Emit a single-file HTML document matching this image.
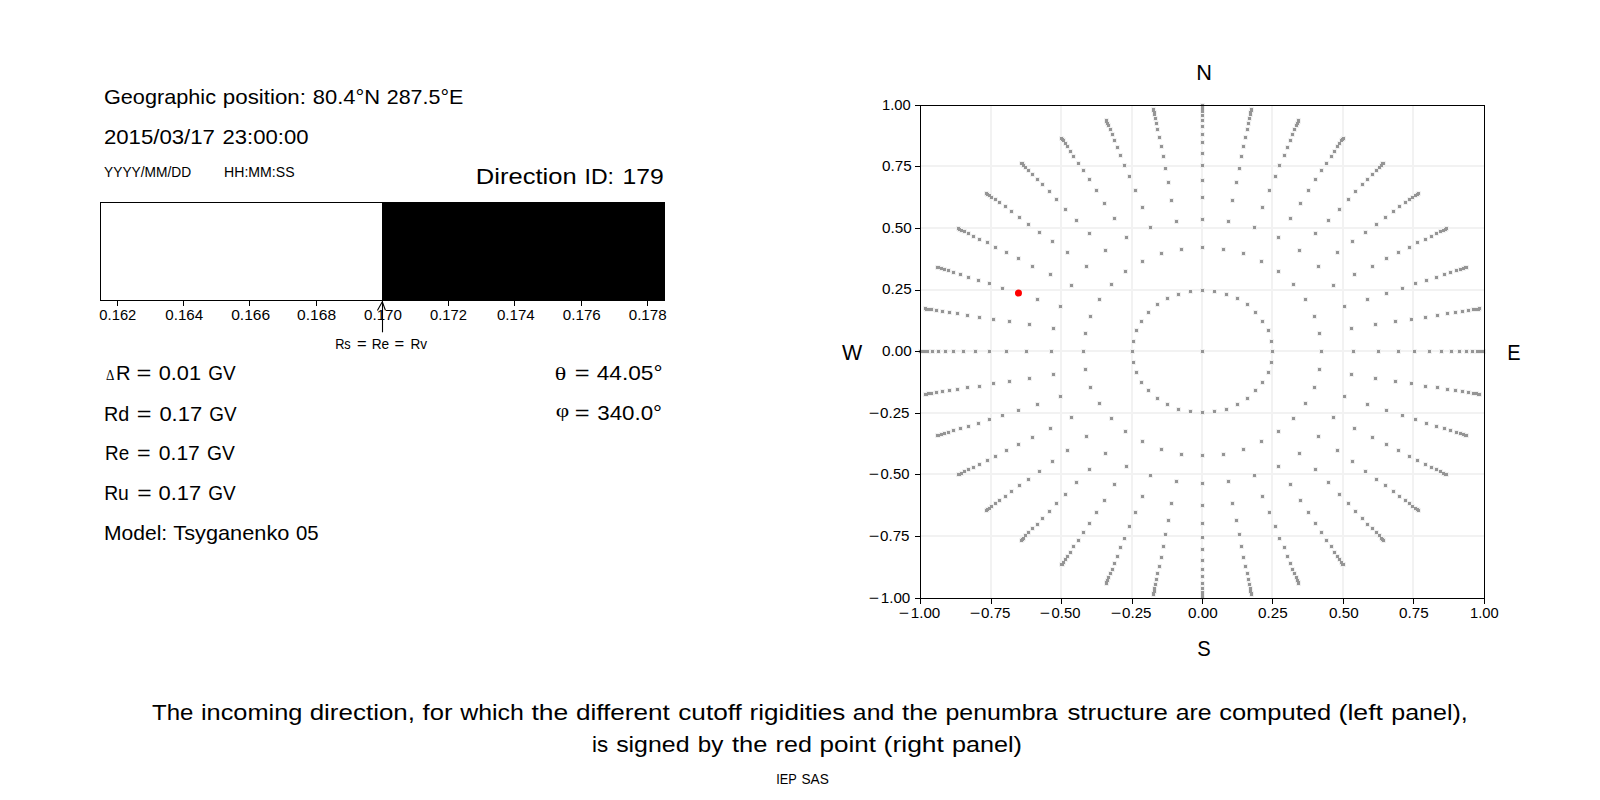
<!DOCTYPE html><html><head><meta charset="utf-8"><style>html,body{margin:0;padding:0;background:#fff;width:1600px;height:800px;overflow:hidden}svg{display:block}text{font-family:"Liberation Sans", sans-serif;fill:#000}</style></head><body>
<svg width="1600" height="800" viewBox="0 0 1600 800">
<rect x="0" y="0" width="1600" height="800" fill="#fff"/>
<g shape-rendering="crispEdges">
<rect x="382" y="202" width="283" height="99" fill="#000"/>
<path d="M100.5,202.5H664.5V300.5H100.5Z" fill="none" stroke="#000" stroke-width="1"/>
<path d="M117.5,301V306" stroke="#000" stroke-width="1"/>
<path d="M183.5,301V306" stroke="#000" stroke-width="1"/>
<path d="M249.5,301V306" stroke="#000" stroke-width="1"/>
<path d="M316.5,301V306" stroke="#000" stroke-width="1"/>
<path d="M382.5,301V306" stroke="#000" stroke-width="1"/>
<path d="M448.5,301V306" stroke="#000" stroke-width="1"/>
<path d="M514.5,301V306" stroke="#000" stroke-width="1"/>
<path d="M581.5,301V306" stroke="#000" stroke-width="1"/>
<path d="M647.5,301V306" stroke="#000" stroke-width="1"/>
</g>
<g fill="none" stroke="#000" stroke-width="1.1" stroke-linecap="butt" stroke-linejoin="miter">
<path d="M382.5,332.3L382.5,301.6"/>
<path d="M377.4,310.6L382.3,301.8L385.4,310.3"/>
</g>
<g shape-rendering="crispEdges">
<rect x="990" y="106" width="2" height="492" fill="#f2f2f2"/>
<rect x="921" y="535" width="563" height="2" fill="#f2f2f2"/>
<rect x="1060" y="106" width="2" height="492" fill="#f2f2f2"/>
<rect x="921" y="473" width="563" height="2" fill="#f2f2f2"/>
<rect x="1131" y="106" width="2" height="492" fill="#f2f2f2"/>
<rect x="921" y="412" width="563" height="2" fill="#f2f2f2"/>
<rect x="1201" y="106" width="2" height="492" fill="#f2f2f2"/>
<rect x="921" y="350" width="563" height="2" fill="#f2f2f2"/>
<rect x="1271" y="106" width="2" height="492" fill="#f2f2f2"/>
<rect x="921" y="289" width="563" height="2" fill="#f2f2f2"/>
<rect x="1342" y="106" width="2" height="492" fill="#f2f2f2"/>
<rect x="921" y="227" width="563" height="2" fill="#f2f2f2"/>
<rect x="1412" y="106" width="2" height="492" fill="#f2f2f2"/>
<rect x="921" y="165" width="563" height="2" fill="#f2f2f2"/>
</g>
<path d="M1200,349h5v5h-5zM1130,349h5v5h-5zM1131,360h5v5h-5zM1134,370h5v5h-5zM1139,380h5v5h-5zM1146,388h5v5h-5zM1155,396h5v5h-5zM1165,402h5v5h-5zM1176,407h5v5h-5zM1188,409h5v5h-5zM1200,410h5v5h-5zM1212,409h5v5h-5zM1224,407h5v5h-5zM1235,402h5v5h-5zM1245,396h5v5h-5zM1253,388h5v5h-5zM1260,380h5v5h-5zM1266,370h5v5h-5zM1269,360h5v5h-5zM1270,349h5v5h-5zM1269,339h5v5h-5zM1266,328h5v5h-5zM1260,319h5v5h-5zM1253,310h5v5h-5zM1245,302h5v5h-5zM1235,296h5v5h-5zM1224,292h5v5h-5zM1212,289h5v5h-5zM1200,288h5v5h-5zM1188,289h5v5h-5zM1176,292h5v5h-5zM1165,296h5v5h-5zM1155,302h5v5h-5zM1146,310h5v5h-5zM1139,319h5v5h-5zM1134,328h5v5h-5zM1131,339h5v5h-5zM1081,349h5v5h-5zM1083,367h5v5h-5zM1088,385h5v5h-5zM1097,401h5v5h-5zM1109,416h5v5h-5zM1123,429h5v5h-5zM1140,439h5v5h-5zM1159,447h5v5h-5zM1179,452h5v5h-5zM1200,453h5v5h-5zM1221,452h5v5h-5zM1241,447h5v5h-5zM1259,439h5v5h-5zM1276,429h5v5h-5zM1291,416h5v5h-5zM1303,401h5v5h-5zM1312,385h5v5h-5zM1317,367h5v5h-5zM1319,349h5v5h-5zM1317,331h5v5h-5zM1312,314h5v5h-5zM1303,297h5v5h-5zM1291,282h5v5h-5zM1276,269h5v5h-5zM1259,259h5v5h-5zM1241,251h5v5h-5zM1221,247h5v5h-5zM1200,245h5v5h-5zM1179,247h5v5h-5zM1159,251h5v5h-5zM1140,259h5v5h-5zM1123,269h5v5h-5zM1109,282h5v5h-5zM1097,297h5v5h-5zM1088,314h5v5h-5zM1083,331h5v5h-5zM1049,349h5v5h-5zM1051,372h5v5h-5zM1058,394h5v5h-5zM1069,415h5v5h-5zM1084,434h5v5h-5zM1103,451h5v5h-5zM1124,464h5v5h-5zM1148,473h5v5h-5zM1174,479h5v5h-5zM1200,481h5v5h-5zM1226,479h5v5h-5zM1252,473h5v5h-5zM1276,464h5v5h-5zM1297,451h5v5h-5zM1316,434h5v5h-5zM1331,415h5v5h-5zM1342,394h5v5h-5zM1349,372h5v5h-5zM1351,349h5v5h-5zM1349,326h5v5h-5zM1342,304h5v5h-5zM1331,283h5v5h-5zM1316,264h5v5h-5zM1297,248h5v5h-5zM1276,235h5v5h-5zM1252,225h5v5h-5zM1226,219h5v5h-5zM1200,217h5v5h-5zM1174,219h5v5h-5zM1148,225h5v5h-5zM1124,235h5v5h-5zM1103,248h5v5h-5zM1084,264h5v5h-5zM1069,283h5v5h-5zM1058,304h5v5h-5zM1051,326h5v5h-5zM1024,349h5v5h-5zM1027,376h5v5h-5zM1035,402h5v5h-5zM1048,426h5v5h-5zM1065,448h5v5h-5zM1087,467h5v5h-5zM1112,482h5v5h-5zM1140,494h5v5h-5zM1169,501h5v5h-5zM1200,503h5v5h-5zM1230,501h5v5h-5zM1260,494h5v5h-5zM1288,482h5v5h-5zM1313,467h5v5h-5zM1335,448h5v5h-5zM1352,426h5v5h-5zM1365,402h5v5h-5zM1373,376h5v5h-5zM1376,349h5v5h-5zM1373,322h5v5h-5zM1365,297h5v5h-5zM1352,272h5v5h-5zM1335,250h5v5h-5zM1313,231h5v5h-5zM1288,216h5v5h-5zM1260,205h5v5h-5zM1230,198h5v5h-5zM1200,195h5v5h-5zM1169,198h5v5h-5zM1140,205h5v5h-5zM1112,216h5v5h-5zM1087,231h5v5h-5zM1065,250h5v5h-5zM1048,272h5v5h-5zM1035,297h5v5h-5zM1027,322h5v5h-5zM1004,349h5v5h-5zM1007,379h5v5h-5zM1016,408h5v5h-5zM1030,435h5v5h-5zM1050,459h5v5h-5zM1074,480h5v5h-5zM1102,498h5v5h-5zM1133,510h5v5h-5zM1166,518h5v5h-5zM1200,521h5v5h-5zM1234,518h5v5h-5zM1267,510h5v5h-5zM1298,498h5v5h-5zM1326,480h5v5h-5zM1350,459h5v5h-5zM1370,435h5v5h-5zM1384,408h5v5h-5zM1393,379h5v5h-5zM1396,349h5v5h-5zM1393,319h5v5h-5zM1384,291h5v5h-5zM1370,264h5v5h-5zM1350,239h5v5h-5zM1326,218h5v5h-5zM1298,201h5v5h-5zM1267,188h5v5h-5zM1234,180h5v5h-5zM1200,178h5v5h-5zM1166,180h5v5h-5zM1133,188h5v5h-5zM1102,201h5v5h-5zM1074,218h5v5h-5zM1050,239h5v5h-5zM1030,264h5v5h-5zM1016,291h5v5h-5zM1007,319h5v5h-5zM987,349h5v5h-5zM991,381h5v5h-5zM1000,413h5v5h-5zM1016,442h5v5h-5zM1037,469h5v5h-5zM1063,492h5v5h-5zM1094,510h5v5h-5zM1127,524h5v5h-5zM1163,532h5v5h-5zM1200,535h5v5h-5zM1237,532h5v5h-5zM1273,524h5v5h-5zM1306,510h5v5h-5zM1337,492h5v5h-5zM1363,469h5v5h-5zM1384,442h5v5h-5zM1400,413h5v5h-5zM1409,381h5v5h-5zM1412,349h5v5h-5zM1409,317h5v5h-5zM1400,286h5v5h-5zM1384,256h5v5h-5zM1363,230h5v5h-5zM1337,207h5v5h-5zM1306,188h5v5h-5zM1273,174h5v5h-5zM1237,166h5v5h-5zM1200,163h5v5h-5zM1163,166h5v5h-5zM1127,174h5v5h-5zM1094,188h5v5h-5zM1063,207h5v5h-5zM1037,230h5v5h-5zM1016,256h5v5h-5zM1000,286h5v5h-5zM991,317h5v5h-5zM973,349h5v5h-5zM977,384h5v5h-5zM987,417h5v5h-5zM1004,448h5v5h-5zM1026,477h5v5h-5zM1054,501h5v5h-5zM1087,521h5v5h-5zM1122,536h5v5h-5zM1161,544h5v5h-5zM1200,547h5v5h-5zM1239,544h5v5h-5zM1277,536h5v5h-5zM1313,521h5v5h-5zM1346,501h5v5h-5zM1374,477h5v5h-5zM1396,448h5v5h-5zM1413,417h5v5h-5zM1423,384h5v5h-5zM1427,349h5v5h-5zM1423,315h5v5h-5zM1413,281h5v5h-5zM1396,250h5v5h-5zM1374,222h5v5h-5zM1346,197h5v5h-5zM1313,177h5v5h-5zM1277,163h5v5h-5zM1239,154h5v5h-5zM1200,151h5v5h-5zM1161,154h5v5h-5zM1122,163h5v5h-5zM1087,177h5v5h-5zM1054,197h5v5h-5zM1026,222h5v5h-5zM1004,250h5v5h-5zM987,281h5v5h-5zM977,315h5v5h-5zM961,349h5v5h-5zM965,385h5v5h-5zM976,421h5v5h-5zM993,454h5v5h-5zM1017,483h5v5h-5zM1047,509h5v5h-5zM1081,530h5v5h-5zM1118,545h5v5h-5zM1159,555h5v5h-5zM1200,558h5v5h-5zM1241,555h5v5h-5zM1282,545h5v5h-5zM1319,530h5v5h-5zM1353,509h5v5h-5zM1383,483h5v5h-5zM1407,454h5v5h-5zM1424,421h5v5h-5zM1435,385h5v5h-5zM1439,349h5v5h-5zM1435,313h5v5h-5zM1424,278h5v5h-5zM1407,245h5v5h-5zM1383,215h5v5h-5zM1353,189h5v5h-5zM1319,168h5v5h-5zM1282,153h5v5h-5zM1241,144h5v5h-5zM1200,140h5v5h-5zM1159,144h5v5h-5zM1118,153h5v5h-5zM1081,168h5v5h-5zM1047,189h5v5h-5zM1017,215h5v5h-5zM993,245h5v5h-5zM976,278h5v5h-5zM965,313h5v5h-5zM951,349h5v5h-5zM955,387h5v5h-5zM966,424h5v5h-5zM985,458h5v5h-5zM1009,489h5v5h-5zM1040,516h5v5h-5zM1076,538h5v5h-5zM1115,554h5v5h-5zM1157,564h5v5h-5zM1200,567h5v5h-5zM1243,564h5v5h-5zM1285,554h5v5h-5zM1324,538h5v5h-5zM1360,516h5v5h-5zM1391,489h5v5h-5zM1415,458h5v5h-5zM1434,424h5v5h-5zM1445,387h5v5h-5zM1449,349h5v5h-5zM1445,311h5v5h-5zM1434,275h5v5h-5zM1415,240h5v5h-5zM1391,209h5v5h-5zM1360,182h5v5h-5zM1324,161h5v5h-5zM1285,145h5v5h-5zM1243,135h5v5h-5zM1200,132h5v5h-5zM1157,135h5v5h-5zM1115,145h5v5h-5zM1076,161h5v5h-5zM1040,182h5v5h-5zM1009,209h5v5h-5zM985,240h5v5h-5zM966,275h5v5h-5zM955,311h5v5h-5zM943,349h5v5h-5zM947,388h5v5h-5zM958,426h5v5h-5zM977,462h5v5h-5zM1003,494h5v5h-5zM1035,522h5v5h-5zM1071,544h5v5h-5zM1112,561h5v5h-5zM1155,571h5v5h-5zM1200,574h5v5h-5zM1245,571h5v5h-5zM1288,561h5v5h-5zM1329,544h5v5h-5zM1365,522h5v5h-5zM1397,494h5v5h-5zM1423,462h5v5h-5zM1442,426h5v5h-5zM1453,388h5v5h-5zM1457,349h5v5h-5zM1453,310h5v5h-5zM1442,272h5v5h-5zM1423,237h5v5h-5zM1397,204h5v5h-5zM1365,177h5v5h-5zM1329,154h5v5h-5zM1288,138h5v5h-5zM1245,127h5v5h-5zM1200,124h5v5h-5zM1155,127h5v5h-5zM1112,138h5v5h-5zM1071,154h5v5h-5zM1035,177h5v5h-5zM1003,204h5v5h-5zM977,237h5v5h-5zM958,272h5v5h-5zM947,310h5v5h-5zM936,349h5v5h-5zM940,389h5v5h-5zM951,428h5v5h-5zM971,465h5v5h-5zM997,498h5v5h-5zM1030,526h5v5h-5zM1068,550h5v5h-5zM1110,567h5v5h-5zM1154,577h5v5h-5zM1200,581h5v5h-5zM1246,577h5v5h-5zM1290,567h5v5h-5zM1332,550h5v5h-5zM1370,526h5v5h-5zM1403,498h5v5h-5zM1429,465h5v5h-5zM1448,428h5v5h-5zM1460,389h5v5h-5zM1464,349h5v5h-5zM1460,309h5v5h-5zM1448,270h5v5h-5zM1429,234h5v5h-5zM1403,200h5v5h-5zM1370,172h5v5h-5zM1332,149h5v5h-5zM1290,132h5v5h-5zM1246,121h5v5h-5zM1200,118h5v5h-5zM1154,121h5v5h-5zM1110,132h5v5h-5zM1068,149h5v5h-5zM1030,172h5v5h-5zM997,200h5v5h-5zM971,234h5v5h-5zM951,270h5v5h-5zM940,309h5v5h-5zM930,349h5v5h-5zM934,390h5v5h-5zM946,430h5v5h-5zM966,467h5v5h-5zM993,501h5v5h-5zM1026,530h5v5h-5zM1065,554h5v5h-5zM1108,571h5v5h-5zM1153,582h5v5h-5zM1200,586h5v5h-5zM1247,582h5v5h-5zM1292,571h5v5h-5zM1335,554h5v5h-5zM1374,530h5v5h-5zM1407,501h5v5h-5zM1434,467h5v5h-5zM1454,430h5v5h-5zM1466,390h5v5h-5zM1470,349h5v5h-5zM1466,308h5v5h-5zM1454,268h5v5h-5zM1434,231h5v5h-5zM1407,197h5v5h-5zM1374,168h5v5h-5zM1335,144h5v5h-5zM1292,127h5v5h-5zM1247,116h5v5h-5zM1200,113h5v5h-5zM1153,116h5v5h-5zM1108,127h5v5h-5zM1065,144h5v5h-5zM1026,168h5v5h-5zM993,197h5v5h-5zM966,231h5v5h-5zM946,268h5v5h-5zM934,308h5v5h-5zM925,349h5v5h-5zM929,391h5v5h-5zM942,431h5v5h-5zM962,469h5v5h-5zM989,504h5v5h-5zM1023,533h5v5h-5zM1063,557h5v5h-5zM1106,575h5v5h-5zM1152,586h5v5h-5zM1200,590h5v5h-5zM1248,586h5v5h-5zM1294,575h5v5h-5zM1337,557h5v5h-5zM1377,533h5v5h-5zM1410,504h5v5h-5zM1438,469h5v5h-5zM1458,431h5v5h-5zM1471,391h5v5h-5zM1475,349h5v5h-5zM1471,307h5v5h-5zM1458,267h5v5h-5zM1438,229h5v5h-5zM1410,195h5v5h-5zM1377,165h5v5h-5zM1337,141h5v5h-5zM1294,123h5v5h-5zM1248,112h5v5h-5zM1200,109h5v5h-5zM1152,112h5v5h-5zM1106,123h5v5h-5zM1063,141h5v5h-5zM1023,165h5v5h-5zM989,195h5v5h-5zM962,229h5v5h-5zM942,267h5v5h-5zM929,307h5v5h-5zM922,349h5v5h-5zM926,391h5v5h-5zM939,432h5v5h-5zM959,471h5v5h-5zM987,506h5v5h-5zM1021,536h5v5h-5zM1061,560h5v5h-5zM1105,578h5v5h-5zM1152,589h5v5h-5zM1200,593h5v5h-5zM1248,589h5v5h-5zM1295,578h5v5h-5zM1339,560h5v5h-5zM1379,536h5v5h-5zM1413,506h5v5h-5zM1441,471h5v5h-5zM1461,432h5v5h-5zM1474,391h5v5h-5zM1478,349h5v5h-5zM1474,307h5v5h-5zM1461,266h5v5h-5zM1441,228h5v5h-5zM1413,193h5v5h-5zM1379,163h5v5h-5zM1339,138h5v5h-5zM1295,121h5v5h-5zM1248,110h5v5h-5zM1200,106h5v5h-5zM1152,110h5v5h-5zM1105,121h5v5h-5zM1061,138h5v5h-5zM1021,163h5v5h-5zM987,193h5v5h-5zM959,228h5v5h-5zM939,266h5v5h-5zM926,307h5v5h-5zM920,349h5v5h-5zM924,392h5v5h-5zM936,433h5v5h-5zM957,472h5v5h-5zM985,507h5v5h-5zM1020,537h5v5h-5zM1060,562h5v5h-5zM1104,580h5v5h-5zM1151,591h5v5h-5zM1200,595h5v5h-5zM1249,591h5v5h-5zM1296,580h5v5h-5zM1340,562h5v5h-5zM1380,537h5v5h-5zM1415,507h5v5h-5zM1443,472h5v5h-5zM1463,433h5v5h-5zM1476,392h5v5h-5zM1480,349h5v5h-5zM1476,307h5v5h-5zM1463,265h5v5h-5zM1443,227h5v5h-5zM1415,192h5v5h-5zM1380,161h5v5h-5zM1340,137h5v5h-5zM1296,119h5v5h-5zM1249,108h5v5h-5zM1200,104h5v5h-5zM1151,108h5v5h-5zM1104,119h5v5h-5zM1060,137h5v5h-5zM1020,161h5v5h-5zM985,192h5v5h-5zM957,227h5v5h-5zM936,265h5v5h-5zM924,307h5v5h-5zM918,349h5v5h-5zM923,392h5v5h-5zM935,433h5v5h-5zM956,472h5v5h-5zM984,508h5v5h-5zM1019,538h5v5h-5zM1059,562h5v5h-5zM1104,581h5v5h-5zM1151,592h5v5h-5zM1200,595h5v5h-5zM1249,592h5v5h-5zM1296,581h5v5h-5zM1341,562h5v5h-5zM1381,538h5v5h-5zM1416,508h5v5h-5zM1444,472h5v5h-5zM1464,433h5v5h-5zM1477,392h5v5h-5zM1481,349h5v5h-5zM1477,306h5v5h-5zM1464,265h5v5h-5zM1444,226h5v5h-5zM1416,191h5v5h-5zM1381,161h5v5h-5zM1341,136h5v5h-5zM1296,118h5v5h-5zM1249,107h5v5h-5zM1200,103h5v5h-5zM1151,107h5v5h-5zM1104,118h5v5h-5zM1059,136h5v5h-5zM1019,161h5v5h-5zM984,191h5v5h-5zM956,226h5v5h-5zM935,265h5v5h-5zM923,306h5v5h-5z" fill="#f1f1f1" shape-rendering="crispEdges"/>
<path d="M1201,350h3v3h-3zM1131,350h3v3h-3zM1132,361h3v3h-3zM1135,371h3v3h-3zM1140,381h3v3h-3zM1147,389h3v3h-3zM1156,397h3v3h-3zM1166,403h3v3h-3zM1177,408h3v3h-3zM1189,410h3v3h-3zM1201,411h3v3h-3zM1213,410h3v3h-3zM1225,408h3v3h-3zM1236,403h3v3h-3zM1246,397h3v3h-3zM1254,389h3v3h-3zM1261,381h3v3h-3zM1267,371h3v3h-3zM1270,361h3v3h-3zM1271,350h3v3h-3zM1270,340h3v3h-3zM1267,329h3v3h-3zM1261,320h3v3h-3zM1254,311h3v3h-3zM1246,303h3v3h-3zM1236,297h3v3h-3zM1225,293h3v3h-3zM1213,290h3v3h-3zM1201,289h3v3h-3zM1189,290h3v3h-3zM1177,293h3v3h-3zM1166,297h3v3h-3zM1156,303h3v3h-3zM1147,311h3v3h-3zM1140,320h3v3h-3zM1135,329h3v3h-3zM1132,340h3v3h-3zM1082,350h3v3h-3zM1084,368h3v3h-3zM1089,386h3v3h-3zM1098,402h3v3h-3zM1110,417h3v3h-3zM1124,430h3v3h-3zM1141,440h3v3h-3zM1160,448h3v3h-3zM1180,453h3v3h-3zM1201,454h3v3h-3zM1222,453h3v3h-3zM1242,448h3v3h-3zM1260,440h3v3h-3zM1277,430h3v3h-3zM1292,417h3v3h-3zM1304,402h3v3h-3zM1313,386h3v3h-3zM1318,368h3v3h-3zM1320,350h3v3h-3zM1318,332h3v3h-3zM1313,315h3v3h-3zM1304,298h3v3h-3zM1292,283h3v3h-3zM1277,270h3v3h-3zM1260,260h3v3h-3zM1242,252h3v3h-3zM1222,248h3v3h-3zM1201,246h3v3h-3zM1180,248h3v3h-3zM1160,252h3v3h-3zM1141,260h3v3h-3zM1124,270h3v3h-3zM1110,283h3v3h-3zM1098,298h3v3h-3zM1089,315h3v3h-3zM1084,332h3v3h-3zM1050,350h3v3h-3zM1052,373h3v3h-3zM1059,395h3v3h-3zM1070,416h3v3h-3zM1085,435h3v3h-3zM1104,452h3v3h-3zM1125,465h3v3h-3zM1149,474h3v3h-3zM1175,480h3v3h-3zM1201,482h3v3h-3zM1227,480h3v3h-3zM1253,474h3v3h-3zM1277,465h3v3h-3zM1298,452h3v3h-3zM1317,435h3v3h-3zM1332,416h3v3h-3zM1343,395h3v3h-3zM1350,373h3v3h-3zM1352,350h3v3h-3zM1350,327h3v3h-3zM1343,305h3v3h-3zM1332,284h3v3h-3zM1317,265h3v3h-3zM1298,249h3v3h-3zM1277,236h3v3h-3zM1253,226h3v3h-3zM1227,220h3v3h-3zM1201,218h3v3h-3zM1175,220h3v3h-3zM1149,226h3v3h-3zM1125,236h3v3h-3zM1104,249h3v3h-3zM1085,265h3v3h-3zM1070,284h3v3h-3zM1059,305h3v3h-3zM1052,327h3v3h-3zM1025,350h3v3h-3zM1028,377h3v3h-3zM1036,403h3v3h-3zM1049,427h3v3h-3zM1066,449h3v3h-3zM1088,468h3v3h-3zM1113,483h3v3h-3zM1141,495h3v3h-3zM1170,502h3v3h-3zM1201,504h3v3h-3zM1231,502h3v3h-3zM1261,495h3v3h-3zM1289,483h3v3h-3zM1314,468h3v3h-3zM1336,449h3v3h-3zM1353,427h3v3h-3zM1366,403h3v3h-3zM1374,377h3v3h-3zM1377,350h3v3h-3zM1374,323h3v3h-3zM1366,298h3v3h-3zM1353,273h3v3h-3zM1336,251h3v3h-3zM1314,232h3v3h-3zM1289,217h3v3h-3zM1261,206h3v3h-3zM1231,199h3v3h-3zM1201,196h3v3h-3zM1170,199h3v3h-3zM1141,206h3v3h-3zM1113,217h3v3h-3zM1088,232h3v3h-3zM1066,251h3v3h-3zM1049,273h3v3h-3zM1036,298h3v3h-3zM1028,323h3v3h-3zM1005,350h3v3h-3zM1008,380h3v3h-3zM1017,409h3v3h-3zM1031,436h3v3h-3zM1051,460h3v3h-3zM1075,481h3v3h-3zM1103,499h3v3h-3zM1134,511h3v3h-3zM1167,519h3v3h-3zM1201,522h3v3h-3zM1235,519h3v3h-3zM1268,511h3v3h-3zM1299,499h3v3h-3zM1327,481h3v3h-3zM1351,460h3v3h-3zM1371,436h3v3h-3zM1385,409h3v3h-3zM1394,380h3v3h-3zM1397,350h3v3h-3zM1394,320h3v3h-3zM1385,292h3v3h-3zM1371,265h3v3h-3zM1351,240h3v3h-3zM1327,219h3v3h-3zM1299,202h3v3h-3zM1268,189h3v3h-3zM1235,181h3v3h-3zM1201,179h3v3h-3zM1167,181h3v3h-3zM1134,189h3v3h-3zM1103,202h3v3h-3zM1075,219h3v3h-3zM1051,240h3v3h-3zM1031,265h3v3h-3zM1017,292h3v3h-3zM1008,320h3v3h-3zM988,350h3v3h-3zM992,382h3v3h-3zM1001,414h3v3h-3zM1017,443h3v3h-3zM1038,470h3v3h-3zM1064,493h3v3h-3zM1095,511h3v3h-3zM1128,525h3v3h-3zM1164,533h3v3h-3zM1201,536h3v3h-3zM1238,533h3v3h-3zM1274,525h3v3h-3zM1307,511h3v3h-3zM1338,493h3v3h-3zM1364,470h3v3h-3zM1385,443h3v3h-3zM1401,414h3v3h-3zM1410,382h3v3h-3zM1413,350h3v3h-3zM1410,318h3v3h-3zM1401,287h3v3h-3zM1385,257h3v3h-3zM1364,231h3v3h-3zM1338,208h3v3h-3zM1307,189h3v3h-3zM1274,175h3v3h-3zM1238,167h3v3h-3zM1201,164h3v3h-3zM1164,167h3v3h-3zM1128,175h3v3h-3zM1095,189h3v3h-3zM1064,208h3v3h-3zM1038,231h3v3h-3zM1017,257h3v3h-3zM1001,287h3v3h-3zM992,318h3v3h-3zM974,350h3v3h-3zM978,385h3v3h-3zM988,418h3v3h-3zM1005,449h3v3h-3zM1027,478h3v3h-3zM1055,502h3v3h-3zM1088,522h3v3h-3zM1123,537h3v3h-3zM1162,545h3v3h-3zM1201,548h3v3h-3zM1240,545h3v3h-3zM1278,537h3v3h-3zM1314,522h3v3h-3zM1347,502h3v3h-3zM1375,478h3v3h-3zM1397,449h3v3h-3zM1414,418h3v3h-3zM1424,385h3v3h-3zM1428,350h3v3h-3zM1424,316h3v3h-3zM1414,282h3v3h-3zM1397,251h3v3h-3zM1375,223h3v3h-3zM1347,198h3v3h-3zM1314,178h3v3h-3zM1278,164h3v3h-3zM1240,155h3v3h-3zM1201,152h3v3h-3zM1162,155h3v3h-3zM1123,164h3v3h-3zM1088,178h3v3h-3zM1055,198h3v3h-3zM1027,223h3v3h-3zM1005,251h3v3h-3zM988,282h3v3h-3zM978,316h3v3h-3zM962,350h3v3h-3zM966,386h3v3h-3zM977,422h3v3h-3zM994,455h3v3h-3zM1018,484h3v3h-3zM1048,510h3v3h-3zM1082,531h3v3h-3zM1119,546h3v3h-3zM1160,556h3v3h-3zM1201,559h3v3h-3zM1242,556h3v3h-3zM1283,546h3v3h-3zM1320,531h3v3h-3zM1354,510h3v3h-3zM1384,484h3v3h-3zM1408,455h3v3h-3zM1425,422h3v3h-3zM1436,386h3v3h-3zM1440,350h3v3h-3zM1436,314h3v3h-3zM1425,279h3v3h-3zM1408,246h3v3h-3zM1384,216h3v3h-3zM1354,190h3v3h-3zM1320,169h3v3h-3zM1283,154h3v3h-3zM1242,145h3v3h-3zM1201,141h3v3h-3zM1160,145h3v3h-3zM1119,154h3v3h-3zM1082,169h3v3h-3zM1048,190h3v3h-3zM1018,216h3v3h-3zM994,246h3v3h-3zM977,279h3v3h-3zM966,314h3v3h-3zM952,350h3v3h-3zM956,388h3v3h-3zM967,425h3v3h-3zM986,459h3v3h-3zM1010,490h3v3h-3zM1041,517h3v3h-3zM1077,539h3v3h-3zM1116,555h3v3h-3zM1158,565h3v3h-3zM1201,568h3v3h-3zM1244,565h3v3h-3zM1286,555h3v3h-3zM1325,539h3v3h-3zM1361,517h3v3h-3zM1392,490h3v3h-3zM1416,459h3v3h-3zM1435,425h3v3h-3zM1446,388h3v3h-3zM1450,350h3v3h-3zM1446,312h3v3h-3zM1435,276h3v3h-3zM1416,241h3v3h-3zM1392,210h3v3h-3zM1361,183h3v3h-3zM1325,162h3v3h-3zM1286,146h3v3h-3zM1244,136h3v3h-3zM1201,133h3v3h-3zM1158,136h3v3h-3zM1116,146h3v3h-3zM1077,162h3v3h-3zM1041,183h3v3h-3zM1010,210h3v3h-3zM986,241h3v3h-3zM967,276h3v3h-3zM956,312h3v3h-3zM944,350h3v3h-3zM948,389h3v3h-3zM959,427h3v3h-3zM978,463h3v3h-3zM1004,495h3v3h-3zM1036,523h3v3h-3zM1072,545h3v3h-3zM1113,562h3v3h-3zM1156,572h3v3h-3zM1201,575h3v3h-3zM1246,572h3v3h-3zM1289,562h3v3h-3zM1330,545h3v3h-3zM1366,523h3v3h-3zM1398,495h3v3h-3zM1424,463h3v3h-3zM1443,427h3v3h-3zM1454,389h3v3h-3zM1458,350h3v3h-3zM1454,311h3v3h-3zM1443,273h3v3h-3zM1424,238h3v3h-3zM1398,205h3v3h-3zM1366,178h3v3h-3zM1330,155h3v3h-3zM1289,139h3v3h-3zM1246,128h3v3h-3zM1201,125h3v3h-3zM1156,128h3v3h-3zM1113,139h3v3h-3zM1072,155h3v3h-3zM1036,178h3v3h-3zM1004,205h3v3h-3zM978,238h3v3h-3zM959,273h3v3h-3zM948,311h3v3h-3zM937,350h3v3h-3zM941,390h3v3h-3zM952,429h3v3h-3zM972,466h3v3h-3zM998,499h3v3h-3zM1031,527h3v3h-3zM1069,551h3v3h-3zM1111,568h3v3h-3zM1155,578h3v3h-3zM1201,582h3v3h-3zM1247,578h3v3h-3zM1291,568h3v3h-3zM1333,551h3v3h-3zM1371,527h3v3h-3zM1404,499h3v3h-3zM1430,466h3v3h-3zM1449,429h3v3h-3zM1461,390h3v3h-3zM1465,350h3v3h-3zM1461,310h3v3h-3zM1449,271h3v3h-3zM1430,235h3v3h-3zM1404,201h3v3h-3zM1371,173h3v3h-3zM1333,150h3v3h-3zM1291,133h3v3h-3zM1247,122h3v3h-3zM1201,119h3v3h-3zM1155,122h3v3h-3zM1111,133h3v3h-3zM1069,150h3v3h-3zM1031,173h3v3h-3zM998,201h3v3h-3zM972,235h3v3h-3zM952,271h3v3h-3zM941,310h3v3h-3zM931,350h3v3h-3zM935,391h3v3h-3zM947,431h3v3h-3zM967,468h3v3h-3zM994,502h3v3h-3zM1027,531h3v3h-3zM1066,555h3v3h-3zM1109,572h3v3h-3zM1154,583h3v3h-3zM1201,587h3v3h-3zM1248,583h3v3h-3zM1293,572h3v3h-3zM1336,555h3v3h-3zM1375,531h3v3h-3zM1408,502h3v3h-3zM1435,468h3v3h-3zM1455,431h3v3h-3zM1467,391h3v3h-3zM1471,350h3v3h-3zM1467,309h3v3h-3zM1455,269h3v3h-3zM1435,232h3v3h-3zM1408,198h3v3h-3zM1375,169h3v3h-3zM1336,145h3v3h-3zM1293,128h3v3h-3zM1248,117h3v3h-3zM1201,114h3v3h-3zM1154,117h3v3h-3zM1109,128h3v3h-3zM1066,145h3v3h-3zM1027,169h3v3h-3zM994,198h3v3h-3zM967,232h3v3h-3zM947,269h3v3h-3zM935,309h3v3h-3zM926,350h3v3h-3zM930,392h3v3h-3zM943,432h3v3h-3zM963,470h3v3h-3zM990,505h3v3h-3zM1024,534h3v3h-3zM1064,558h3v3h-3zM1107,576h3v3h-3zM1153,587h3v3h-3zM1201,591h3v3h-3zM1249,587h3v3h-3zM1295,576h3v3h-3zM1338,558h3v3h-3zM1378,534h3v3h-3zM1411,505h3v3h-3zM1439,470h3v3h-3zM1459,432h3v3h-3zM1472,392h3v3h-3zM1476,350h3v3h-3zM1472,308h3v3h-3zM1459,268h3v3h-3zM1439,230h3v3h-3zM1411,196h3v3h-3zM1378,166h3v3h-3zM1338,142h3v3h-3zM1295,124h3v3h-3zM1249,113h3v3h-3zM1201,110h3v3h-3zM1153,113h3v3h-3zM1107,124h3v3h-3zM1064,142h3v3h-3zM1024,166h3v3h-3zM990,196h3v3h-3zM963,230h3v3h-3zM943,268h3v3h-3zM930,308h3v3h-3zM923,350h3v3h-3zM927,392h3v3h-3zM940,433h3v3h-3zM960,472h3v3h-3zM988,507h3v3h-3zM1022,537h3v3h-3zM1062,561h3v3h-3zM1106,579h3v3h-3zM1153,590h3v3h-3zM1201,594h3v3h-3zM1249,590h3v3h-3zM1296,579h3v3h-3zM1340,561h3v3h-3zM1380,537h3v3h-3zM1414,507h3v3h-3zM1442,472h3v3h-3zM1462,433h3v3h-3zM1475,392h3v3h-3zM1479,350h3v3h-3zM1475,308h3v3h-3zM1462,267h3v3h-3zM1442,229h3v3h-3zM1414,194h3v3h-3zM1380,164h3v3h-3zM1340,139h3v3h-3zM1296,122h3v3h-3zM1249,111h3v3h-3zM1201,107h3v3h-3zM1153,111h3v3h-3zM1106,122h3v3h-3zM1062,139h3v3h-3zM1022,164h3v3h-3zM988,194h3v3h-3zM960,229h3v3h-3zM940,267h3v3h-3zM927,308h3v3h-3zM921,350h3v3h-3zM925,393h3v3h-3zM937,434h3v3h-3zM958,473h3v3h-3zM986,508h3v3h-3zM1021,538h3v3h-3zM1061,563h3v3h-3zM1105,581h3v3h-3zM1152,592h3v3h-3zM1201,596h3v3h-3zM1250,592h3v3h-3zM1297,581h3v3h-3zM1341,563h3v3h-3zM1381,538h3v3h-3zM1416,508h3v3h-3zM1444,473h3v3h-3zM1464,434h3v3h-3zM1477,393h3v3h-3zM1481,350h3v3h-3zM1477,308h3v3h-3zM1464,266h3v3h-3zM1444,228h3v3h-3zM1416,193h3v3h-3zM1381,162h3v3h-3zM1341,138h3v3h-3zM1297,120h3v3h-3zM1250,109h3v3h-3zM1201,105h3v3h-3zM1152,109h3v3h-3zM1105,120h3v3h-3zM1061,138h3v3h-3zM1021,162h3v3h-3zM986,193h3v3h-3zM958,228h3v3h-3zM937,266h3v3h-3zM925,308h3v3h-3zM919,350h3v3h-3zM924,393h3v3h-3zM936,434h3v3h-3zM957,473h3v3h-3zM985,509h3v3h-3zM1020,539h3v3h-3zM1060,563h3v3h-3zM1105,582h3v3h-3zM1152,593h3v3h-3zM1201,596h3v3h-3zM1250,593h3v3h-3zM1297,582h3v3h-3zM1342,563h3v3h-3zM1382,539h3v3h-3zM1417,509h3v3h-3zM1445,473h3v3h-3zM1465,434h3v3h-3zM1478,393h3v3h-3zM1482,350h3v3h-3zM1478,307h3v3h-3zM1465,266h3v3h-3zM1445,227h3v3h-3zM1417,192h3v3h-3zM1382,162h3v3h-3zM1342,137h3v3h-3zM1297,119h3v3h-3zM1250,108h3v3h-3zM1201,104h3v3h-3zM1152,108h3v3h-3zM1105,119h3v3h-3zM1060,137h3v3h-3zM1020,162h3v3h-3zM985,192h3v3h-3zM957,227h3v3h-3zM936,266h3v3h-3zM924,307h3v3h-3z" fill="#959595" shape-rendering="crispEdges"/>
<circle cx="1018.47" cy="293.11" r="3.5" fill="#ff0000"/>
<g shape-rendering="crispEdges" stroke="#000" stroke-width="1" fill="none">
<path d="M920.5,105.5H1484.5V598.5H920.5Z"/>
<path d="M920.5,599V604"/>
<path d="M915,598.5H920"/>
<path d="M991.5,599V604"/>
<path d="M915,536.5H920"/>
<path d="M1061.5,599V604"/>
<path d="M915,474.5H920"/>
<path d="M1132.5,599V604"/>
<path d="M915,413.5H920"/>
<path d="M1202.5,599V604"/>
<path d="M915,351.5H920"/>
<path d="M1272.5,599V604"/>
<path d="M915,290.5H920"/>
<path d="M1343.5,599V604"/>
<path d="M915,228.5H920"/>
<path d="M1413.5,599V604"/>
<path d="M915,166.5H920"/>
<path d="M1484.5,599V604"/>
<path d="M915,105.5H920"/>
</g>
<text id="geo_w0" x="103.94" y="104.00" font-size="20.60" textLength="112.04" lengthAdjust="spacingAndGlyphs">Geographic</text>
<text id="geo_w1" x="222.85" y="104.00" font-size="20.60" textLength="83.05" lengthAdjust="spacingAndGlyphs">position:</text>
<text id="geo_w2" x="312.81" y="104.00" font-size="20.60" textLength="67.25" lengthAdjust="spacingAndGlyphs">80.4°N</text>
<text id="geo_w3" x="386.77" y="104.00" font-size="20.60" textLength="76.55" lengthAdjust="spacingAndGlyphs">287.5°E</text>
<text id="date_w0" x="103.93" y="144.00" font-size="20.60" textLength="111.00" lengthAdjust="spacingAndGlyphs">2015/03/17</text>
<text id="date_w1" x="222.53" y="144.00" font-size="20.60" textLength="85.97" lengthAdjust="spacingAndGlyphs">23:00:00</text>
<text id="ymd" x="104.07" y="177.00" font-size="14.72" textLength="87.15" lengthAdjust="spacingAndGlyphs">YYYY/MM/DD</text>
<text id="hms" x="224.04" y="177.00" font-size="14.72" textLength="70.53" lengthAdjust="spacingAndGlyphs">HH:MM:SS</text>
<text id="dir_w0" x="475.81" y="184.20" font-size="22.60" textLength="100.84" lengthAdjust="spacingAndGlyphs">Direction</text>
<text id="dir_w1" x="584.50" y="184.20" font-size="22.60" textLength="29.47" lengthAdjust="spacingAndGlyphs">ID:</text>
<text id="dir_w2" x="622.64" y="184.20" font-size="22.60" textLength="41.24" lengthAdjust="spacingAndGlyphs">179</text>
<text id="rs_w0" x="335.14" y="349.00" font-size="14.72" textLength="15.63" lengthAdjust="spacingAndGlyphs">Rs</text>
<text id="rs_w1" x="356.96" y="349.00" font-size="14.72" textLength="9.66" lengthAdjust="spacingAndGlyphs">=</text>
<text id="rs_w2" x="371.69" y="349.00" font-size="14.72" textLength="17.48" lengthAdjust="spacingAndGlyphs">Re</text>
<text id="rs_w3" x="394.64" y="349.00" font-size="14.72" textLength="9.68" lengthAdjust="spacingAndGlyphs">=</text>
<text id="rs_w4" x="410.46" y="349.00" font-size="14.72" textLength="16.62" lengthAdjust="spacingAndGlyphs">Rv</text>
<text id="dR_w0" x="115.94" y="380.00" font-size="20.60" textLength="14.52" lengthAdjust="spacingAndGlyphs">R</text>
<text id="dR_w1" x="136.62" y="380.00" font-size="20.60" textLength="14.90" lengthAdjust="spacingAndGlyphs">=</text>
<text id="dR_w2" x="158.74" y="380.00" font-size="20.60" textLength="42.33" lengthAdjust="spacingAndGlyphs">0.01</text>
<text id="dR_w3" x="208.23" y="380.00" font-size="20.60" textLength="27.45" lengthAdjust="spacingAndGlyphs">GV</text>
<text id="delta" x="106.00" y="380.00" font-size="15.00" style="font-family:'Liberation Serif', serif" textLength="8.38" lengthAdjust="spacingAndGlyphs">Δ</text>
<text id="Rd_w0" x="104.04" y="420.50" font-size="20.60" textLength="25.21" lengthAdjust="spacingAndGlyphs">Rd</text>
<text id="Rd_w1" x="136.89" y="420.50" font-size="20.60" textLength="14.77" lengthAdjust="spacingAndGlyphs">=</text>
<text id="Rd_w2" x="159.40" y="420.50" font-size="20.60" textLength="42.75" lengthAdjust="spacingAndGlyphs">0.17</text>
<text id="Rd_w3" x="209.27" y="420.50" font-size="20.60" textLength="27.32" lengthAdjust="spacingAndGlyphs">GV</text>
<text id="Re_w0" x="105.08" y="460.00" font-size="20.60" textLength="24.06" lengthAdjust="spacingAndGlyphs">Re</text>
<text id="Re_w1" x="137.01" y="460.00" font-size="20.60" textLength="13.60" lengthAdjust="spacingAndGlyphs">=</text>
<text id="Re_w2" x="158.80" y="460.00" font-size="20.60" textLength="41.07" lengthAdjust="spacingAndGlyphs">0.17</text>
<text id="Re_w3" x="207.05" y="460.00" font-size="20.60" textLength="27.81" lengthAdjust="spacingAndGlyphs">GV</text>
<text id="Ru_w0" x="104.13" y="500.00" font-size="20.60" textLength="24.64" lengthAdjust="spacingAndGlyphs">Ru</text>
<text id="Ru_w1" x="137.23" y="500.00" font-size="20.60" textLength="14.40" lengthAdjust="spacingAndGlyphs">=</text>
<text id="Ru_w2" x="158.49" y="500.00" font-size="20.60" textLength="42.70" lengthAdjust="spacingAndGlyphs">0.17</text>
<text id="Ru_w3" x="208.24" y="500.00" font-size="20.60" textLength="27.50" lengthAdjust="spacingAndGlyphs">GV</text>
<text id="model_w0" x="103.94" y="540.00" font-size="20.60" textLength="63.23" lengthAdjust="spacingAndGlyphs">Model:</text>
<text id="model_w1" x="173.28" y="540.00" font-size="20.60" textLength="116.13" lengthAdjust="spacingAndGlyphs">Tsyganenko</text>
<text id="model_w2" x="295.88" y="540.00" font-size="20.60" textLength="22.67" lengthAdjust="spacingAndGlyphs">05</text>
<text id="theta" x="554.74" y="380.00" font-size="19.00" style="font-family:'Liberation Serif', serif" textLength="11.53" lengthAdjust="spacingAndGlyphs">θ</text>
<text id="thv_w0" x="574.77" y="380.00" font-size="20.60" textLength="14.83" lengthAdjust="spacingAndGlyphs">=</text>
<text id="thv_w1" x="596.78" y="380.00" font-size="20.60" textLength="65.78" lengthAdjust="spacingAndGlyphs">44.05°</text>
<text id="phi" x="555.77" y="416.50" font-size="19.00" style="font-family:'Liberation Serif', serif" textLength="13.50" lengthAdjust="spacingAndGlyphs">φ</text>
<text id="phv_w0" x="574.77" y="420.00" font-size="20.60" textLength="14.83" lengthAdjust="spacingAndGlyphs">=</text>
<text id="phv_w1" x="597.27" y="420.00" font-size="20.60" textLength="64.78" lengthAdjust="spacingAndGlyphs">340.0°</text>
<text id="N" x="1196.15" y="79.70" font-size="22.60" textLength="15.71" lengthAdjust="spacingAndGlyphs">N</text>
<text id="S" x="1197.14" y="655.80" font-size="22.60" textLength="13.47" lengthAdjust="spacingAndGlyphs">S</text>
<text id="W" x="842.00" y="359.70" font-size="22.60" textLength="20.21" lengthAdjust="spacingAndGlyphs">W</text>
<text id="E" x="1507.31" y="359.70" font-size="22.60" textLength="13.30" lengthAdjust="spacingAndGlyphs">E</text>
<text id="cap1_w0" x="152.00" y="720.00" font-size="22.60" textLength="41.35" lengthAdjust="spacingAndGlyphs">The</text>
<text id="cap1_w1" x="200.93" y="720.00" font-size="22.60" textLength="101.43" lengthAdjust="spacingAndGlyphs">incoming</text>
<text id="cap1_w2" x="309.68" y="720.00" font-size="22.60" textLength="105.31" lengthAdjust="spacingAndGlyphs">direction,</text>
<text id="cap1_w3" x="422.62" y="720.00" font-size="22.60" textLength="29.89" lengthAdjust="spacingAndGlyphs">for</text>
<text id="cap1_w4" x="460.20" y="720.00" font-size="22.60" textLength="63.67" lengthAdjust="spacingAndGlyphs">which</text>
<text id="cap1_w5" x="531.46" y="720.00" font-size="22.60" textLength="36.82" lengthAdjust="spacingAndGlyphs">the</text>
<text id="cap1_w6" x="575.91" y="720.00" font-size="22.60" textLength="93.84" lengthAdjust="spacingAndGlyphs">different</text>
<text id="cap1_w7" x="678.26" y="720.00" font-size="22.60" textLength="63.65" lengthAdjust="spacingAndGlyphs">cutoff</text>
<text id="cap1_w8" x="749.63" y="720.00" font-size="22.60" textLength="95.67" lengthAdjust="spacingAndGlyphs">rigidities</text>
<text id="cap1_w9" x="852.88" y="720.00" font-size="22.60" textLength="41.31" lengthAdjust="spacingAndGlyphs">and</text>
<text id="cap1_w10" x="902.07" y="720.00" font-size="22.60" textLength="35.63" lengthAdjust="spacingAndGlyphs">the</text>
<text id="cap1_w11" x="945.53" y="720.00" font-size="22.60" textLength="112.20" lengthAdjust="spacingAndGlyphs">penumbra</text>
<text id="cap1_w12" x="1067.48" y="720.00" font-size="22.60" textLength="100.44" lengthAdjust="spacingAndGlyphs">structure</text>
<text id="cap1_w13" x="1175.69" y="720.00" font-size="22.60" textLength="35.84" lengthAdjust="spacingAndGlyphs">are</text>
<text id="cap1_w14" x="1219.17" y="720.00" font-size="22.60" textLength="111.91" lengthAdjust="spacingAndGlyphs">computed</text>
<text id="cap1_w15" x="1338.59" y="720.00" font-size="22.60" textLength="44.43" lengthAdjust="spacingAndGlyphs">(left</text>
<text id="cap1_w16" x="1391.25" y="720.00" font-size="22.60" textLength="76.56" lengthAdjust="spacingAndGlyphs">panel),</text>
<text id="cap2_w0" x="592.02" y="752.00" font-size="22.60" textLength="16.15" lengthAdjust="spacingAndGlyphs">is</text>
<text id="cap2_w1" x="616.15" y="752.00" font-size="22.60" textLength="73.38" lengthAdjust="spacingAndGlyphs">signed</text>
<text id="cap2_w2" x="697.73" y="752.00" font-size="22.60" textLength="25.63" lengthAdjust="spacingAndGlyphs">by</text>
<text id="cap2_w3" x="732.02" y="752.00" font-size="22.60" textLength="35.48" lengthAdjust="spacingAndGlyphs">the</text>
<text id="cap2_w4" x="775.61" y="752.00" font-size="22.60" textLength="36.21" lengthAdjust="spacingAndGlyphs">red</text>
<text id="cap2_w5" x="819.47" y="752.00" font-size="22.60" textLength="56.51" lengthAdjust="spacingAndGlyphs">point</text>
<text id="cap2_w6" x="883.62" y="752.00" font-size="22.60" textLength="60.34" lengthAdjust="spacingAndGlyphs">(right</text>
<text id="cap2_w7" x="951.91" y="752.00" font-size="22.60" textLength="70.03" lengthAdjust="spacingAndGlyphs">panel)</text>
<text id="iep_w0" x="776.15" y="784.00" font-size="14.72" textLength="20.59" lengthAdjust="spacingAndGlyphs">IEP</text>
<text id="iep_w1" x="801.43" y="784.00" font-size="14.72" textLength="27.34" lengthAdjust="spacingAndGlyphs">SAS</text>
<text id="lt0" x="99.38" y="320.00" font-size="14.72" textLength="36.92" lengthAdjust="spacingAndGlyphs">0.162</text>
<text id="lt1" x="165.33" y="320.00" font-size="14.72" textLength="37.87" lengthAdjust="spacingAndGlyphs">0.164</text>
<text id="lt2" x="231.19" y="320.00" font-size="14.72" textLength="39.00" lengthAdjust="spacingAndGlyphs">0.166</text>
<text id="lt3" x="297.10" y="320.00" font-size="14.72" textLength="38.98" lengthAdjust="spacingAndGlyphs">0.168</text>
<text id="lt4" x="364.09" y="320.00" font-size="14.72" textLength="37.87" lengthAdjust="spacingAndGlyphs">0.170</text>
<text id="lt5" x="430.00" y="320.00" font-size="14.72" textLength="36.90" lengthAdjust="spacingAndGlyphs">0.172</text>
<text id="lt6" x="496.92" y="320.00" font-size="14.72" textLength="37.87" lengthAdjust="spacingAndGlyphs">0.174</text>
<text id="lt7" x="562.82" y="320.00" font-size="14.72" textLength="37.93" lengthAdjust="spacingAndGlyphs">0.176</text>
<text id="lt8" x="628.71" y="320.00" font-size="14.72" textLength="37.93" lengthAdjust="spacingAndGlyphs">0.178</text>
<text id="xt0_w0" x="898.81" y="618.00" font-size="14.72" textLength="10.26" lengthAdjust="spacingAndGlyphs">−</text>
<text id="xt0_w1" x="910.79" y="618.00" font-size="14.72" textLength="29.52" lengthAdjust="spacingAndGlyphs">1.00</text>
<text id="xt1_w0" x="969.77" y="618.00" font-size="14.72" textLength="10.55" lengthAdjust="spacingAndGlyphs">−</text>
<text id="xt1_w1" x="981.00" y="618.00" font-size="14.72" textLength="29.50" lengthAdjust="spacingAndGlyphs">0.75</text>
<text id="xt2_w0" x="1039.81" y="618.00" font-size="14.72" textLength="10.17" lengthAdjust="spacingAndGlyphs">−</text>
<text id="xt2_w1" x="1051.54" y="618.00" font-size="14.72" textLength="28.87" lengthAdjust="spacingAndGlyphs">0.50</text>
<text id="xt3_w0" x="1110.77" y="618.00" font-size="14.72" textLength="10.55" lengthAdjust="spacingAndGlyphs">−</text>
<text id="xt3_w1" x="1122.00" y="618.00" font-size="14.72" textLength="29.50" lengthAdjust="spacingAndGlyphs">0.25</text>
<text id="xt4" x="1187.96" y="618.00" font-size="14.72" textLength="29.72" lengthAdjust="spacingAndGlyphs">0.00</text>
<text id="xt5" x="1257.96" y="618.00" font-size="14.72" textLength="29.72" lengthAdjust="spacingAndGlyphs">0.25</text>
<text id="xt6" x="1328.96" y="618.00" font-size="14.72" textLength="29.72" lengthAdjust="spacingAndGlyphs">0.50</text>
<text id="xt7" x="1398.96" y="618.00" font-size="14.72" textLength="29.72" lengthAdjust="spacingAndGlyphs">0.75</text>
<text id="xt8" x="1470.00" y="618.00" font-size="14.72" textLength="28.66" lengthAdjust="spacingAndGlyphs">1.00</text>
<text id="yt0_w0" x="868.81" y="603.00" font-size="14.72" textLength="10.26" lengthAdjust="spacingAndGlyphs">−</text>
<text id="yt0_w1" x="880.79" y="603.00" font-size="14.72" textLength="29.52" lengthAdjust="spacingAndGlyphs">1.00</text>
<text id="yt1_w0" x="868.77" y="541.00" font-size="14.72" textLength="10.55" lengthAdjust="spacingAndGlyphs">−</text>
<text id="yt1_w1" x="880.00" y="541.00" font-size="14.72" textLength="29.50" lengthAdjust="spacingAndGlyphs">0.75</text>
<text id="yt2_w0" x="868.81" y="479.00" font-size="14.72" textLength="10.17" lengthAdjust="spacingAndGlyphs">−</text>
<text id="yt2_w1" x="880.54" y="479.00" font-size="14.72" textLength="28.87" lengthAdjust="spacingAndGlyphs">0.50</text>
<text id="yt3_w0" x="868.77" y="418.00" font-size="14.72" textLength="10.55" lengthAdjust="spacingAndGlyphs">−</text>
<text id="yt3_w1" x="880.00" y="418.00" font-size="14.72" textLength="29.50" lengthAdjust="spacingAndGlyphs">0.25</text>
<text id="yt4" x="881.96" y="356.00" font-size="14.72" textLength="29.72" lengthAdjust="spacingAndGlyphs">0.00</text>
<text id="yt5" x="881.96" y="294.00" font-size="14.72" textLength="29.72" lengthAdjust="spacingAndGlyphs">0.25</text>
<text id="yt6" x="881.96" y="233.00" font-size="14.72" textLength="29.72" lengthAdjust="spacingAndGlyphs">0.50</text>
<text id="yt7" x="881.96" y="171.00" font-size="14.72" textLength="29.72" lengthAdjust="spacingAndGlyphs">0.75</text>
<text id="yt8" x="882.00" y="110.00" font-size="14.72" textLength="28.66" lengthAdjust="spacingAndGlyphs">1.00</text>
</svg></body></html>
